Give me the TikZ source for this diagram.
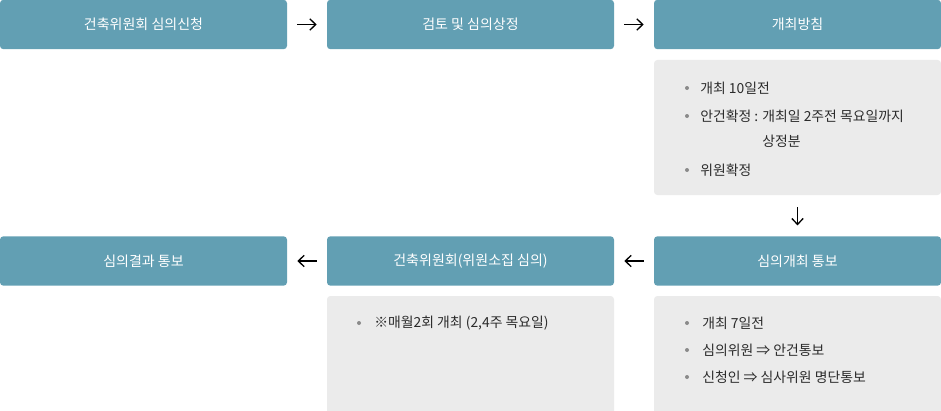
\documentclass[tikz,border=0pt]{standalone}
\usepackage{fontspec}
\setmainfont{Noto Sans CJK KR}
\usetikzlibrary{arrows.meta}
\definecolor{boxblue}{HTML}{629FB3}
\definecolor{boxgray}{HTML}{EBEBEB}
\definecolor{txtdark}{HTML}{2B2B2B}
\definecolor{dotgray}{HTML}{8A8A8A}
\tikzset{
  bluebox/.style={fill=boxblue, rounded corners=2.5pt, minimum width=215.25pt, minimum height=37pt, inner sep=0pt, text=white, font=\fontsize{10.5pt}{12pt}\selectfont},
  graybox/.style={fill=boxgray, rounded corners=2.5pt, minimum width=215.25pt, inner sep=0pt},
  itemtext/.style={anchor=west, inner sep=0pt, text=txtdark, font=\fontsize{10.4pt}{12pt}\selectfont},
  dotmark/.style={circle, fill=dotgray, minimum size=3pt, inner sep=0pt},
  arr/.style={-{Straight Barb[length=4.5pt,width=8.5pt]}, line width=1pt, black, shorten <=7.5pt, shorten >=7.5pt},
}
\begin{document}
\begin{tikzpicture}[x=0.75pt,y=-0.75pt]
\useasboundingbox (0,0) rectangle (941,410);
% row 1
\node[bluebox] (b1) at (143.5,24.5) {건축위원회 심의신청};
\node[bluebox] (b2) at (470.5,24.5) {검토 및 심의상정};
\node[bluebox] (b3) at (797.5,24.5) {개최방침};
% gray box under b3
\node[graybox, minimum height=101.25pt] (g1) at (797.5,127.5) {};
\node[dotmark] (g1d1) at (687,88) {};
\node[itemtext] (g1t1) at (700,88) {개최 10일전};
\node[dotmark] (g1d2) at (687,116) {};
\node[itemtext] (g1t2) at (700,116) {안건확정 : 개최일 2주전 목요일까지};
\node[itemtext] (g1t3) at (762,141) {상정분};
\node[dotmark] (g1d3) at (687,170) {};
\node[itemtext] (g1t4) at (700,170) {위원확정};
% row 2
\node[bluebox] (b6) at (143.5,261) {심의결과 통보};
\node[bluebox] (b5) at (470.5,261) {건축위원회(위원소집 심의)};
\node[bluebox] (b4) at (797.5,261) {심의개최 통보};
% gray boxes row 2
\node[graybox, minimum height=90pt] (g2) at (470.5,356) {};
\node[dotmark] (g2d1) at (359,323) {};
\node[itemtext] (g2t1) at (374,323) {※매월2회 개최 (2,4주 목요일)};
\node[graybox, minimum height=90pt] (g3) at (797.5,356) {};
\node[dotmark] (g3d1) at (687,323) {};
\node[itemtext] (g3t1) at (702,323) {개최 7일전};
\node[dotmark] (g3d2) at (687,350) {};
\node[itemtext] (g3t2) at (702,350) {심의위원 ⇒ 안건통보};
\node[dotmark] (g3d3) at (687,377) {};
\node[itemtext] (g3t3) at (702,377) {신청인 ⇒ 심사위원 명단통보};
% connectors
\draw[arr] (b1.east) -- (b2.west);
\draw[arr] (b2.east) -- (b3.west);
\draw[arr, shorten <=9pt, shorten >=8pt] (g1.south) -- (b4.north);
\draw[arr] (b4.west) -- (b5.east);
\draw[arr] (b5.west) -- (b6.east);
\end{tikzpicture}
\end{document}
